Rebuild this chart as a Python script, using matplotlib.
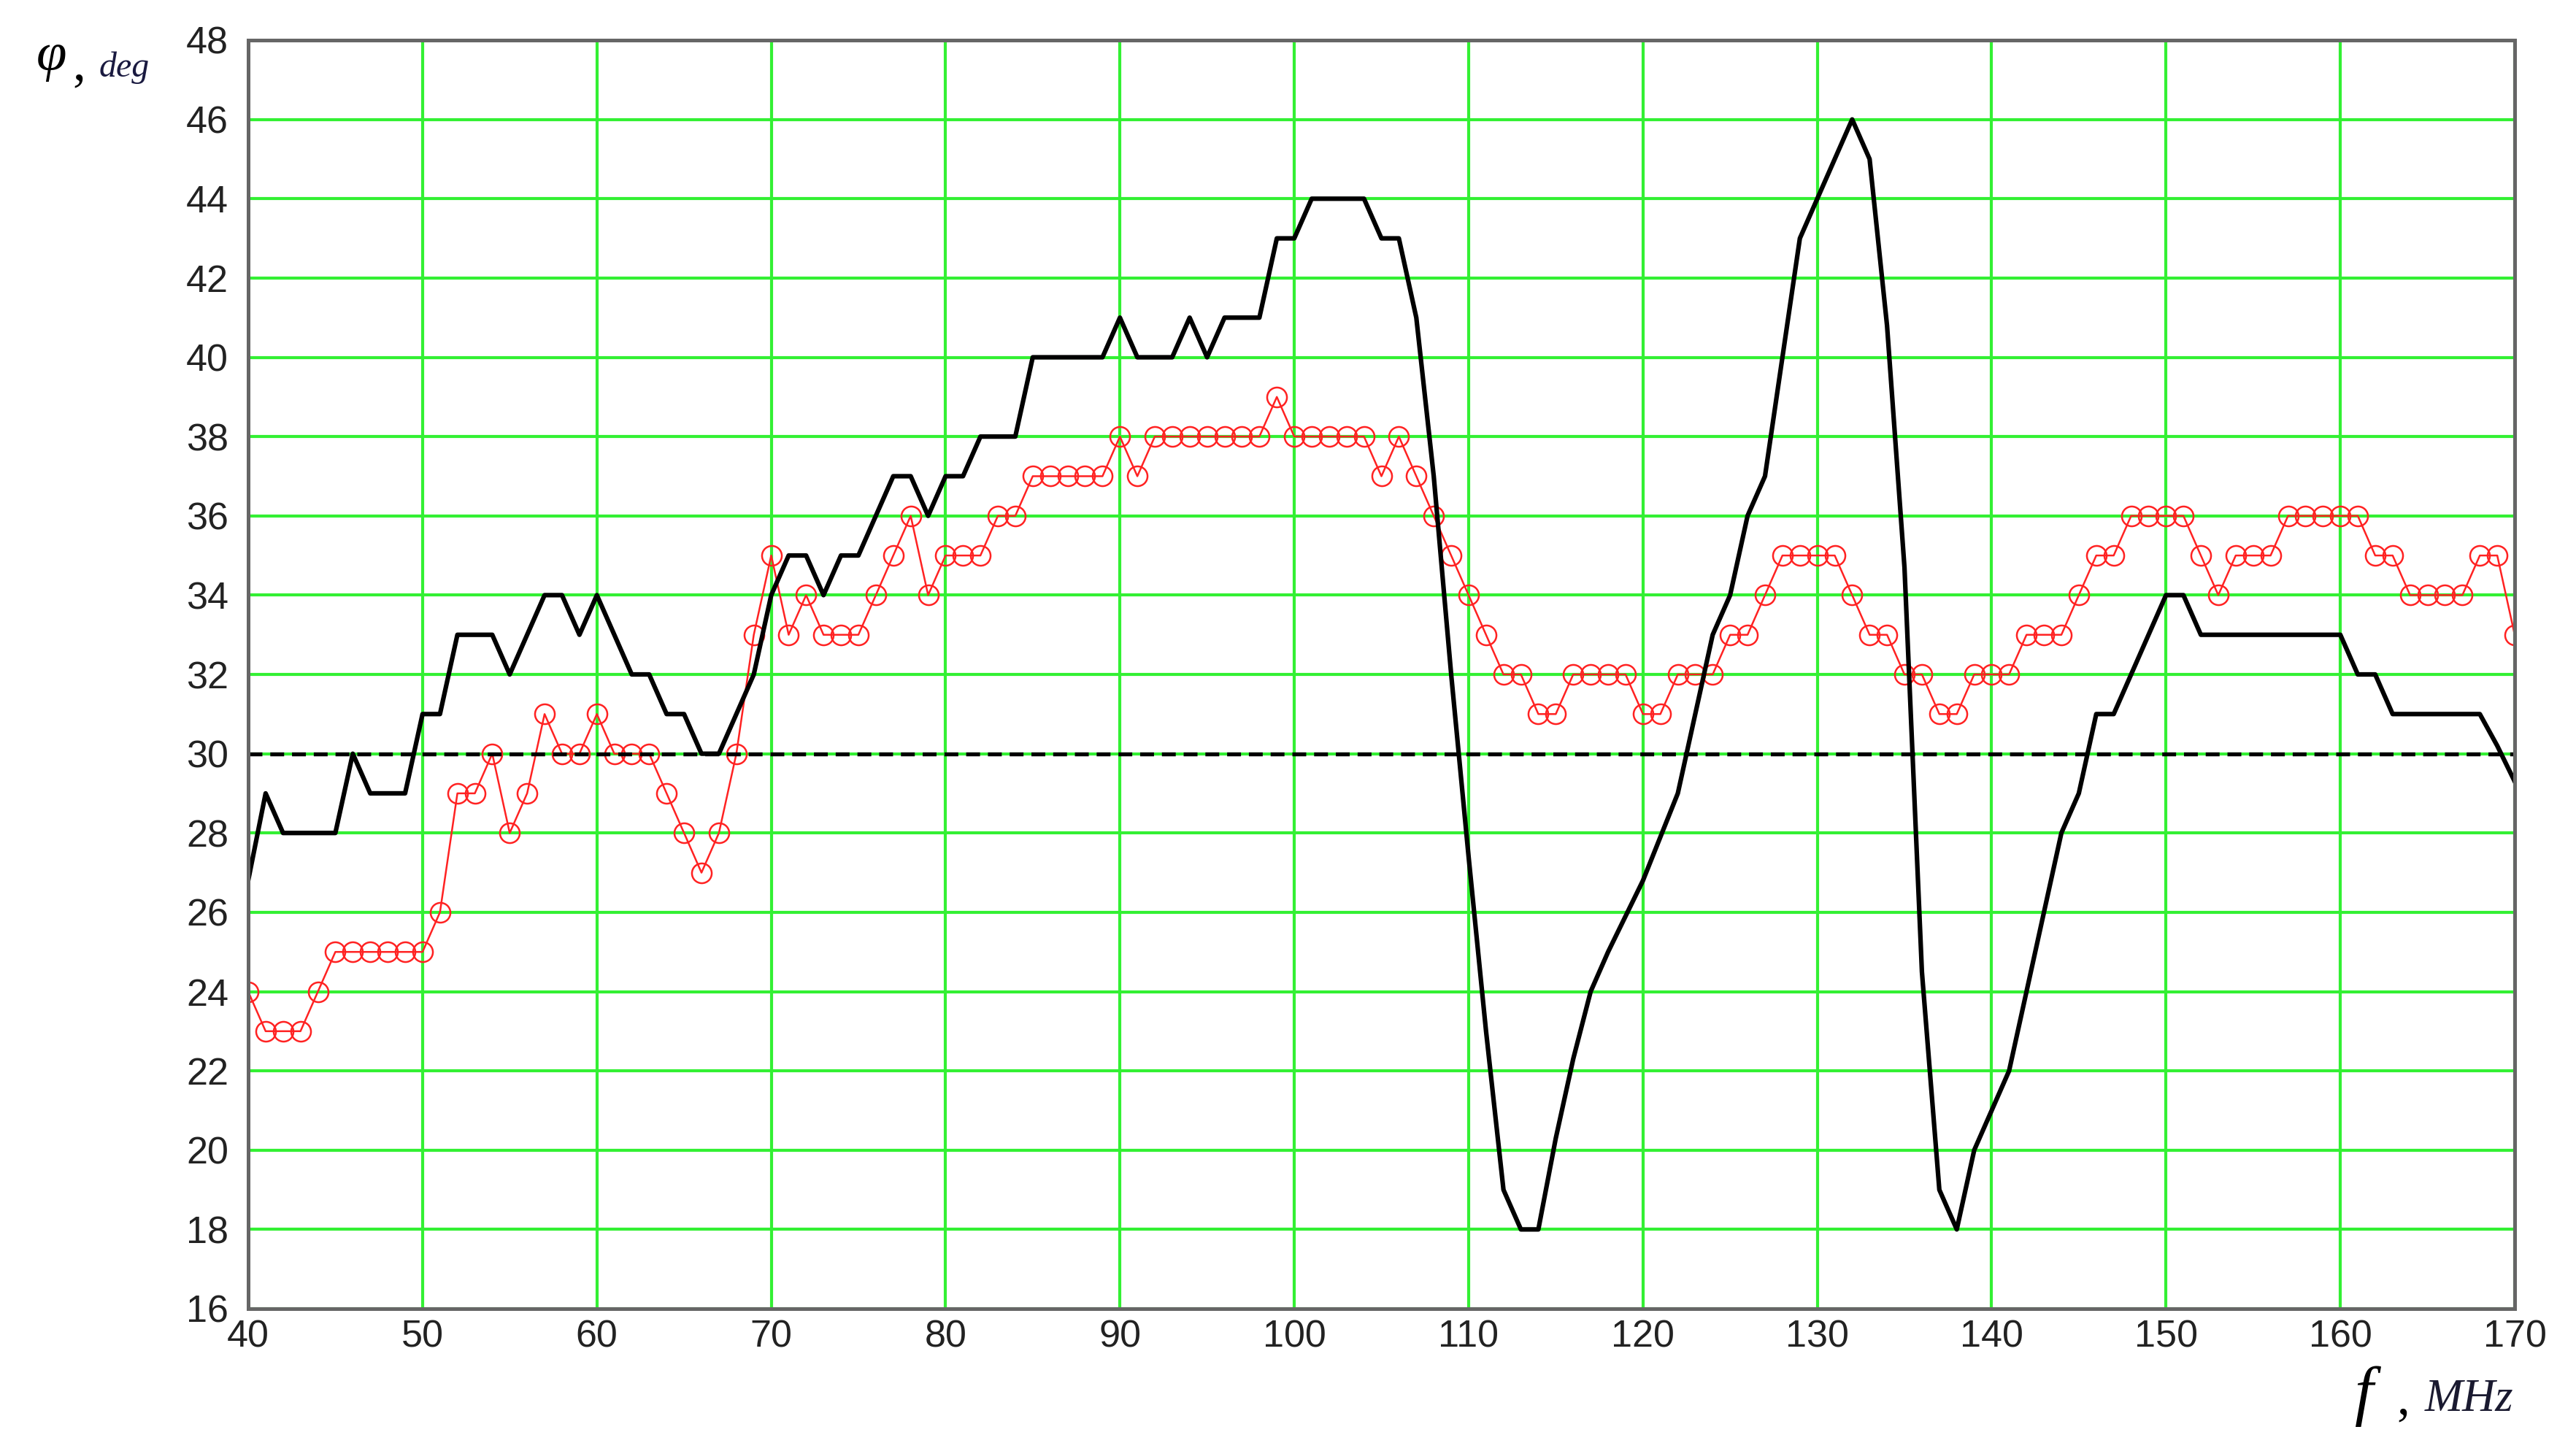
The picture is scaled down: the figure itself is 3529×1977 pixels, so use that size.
import matplotlib
matplotlib.use("Agg")
import matplotlib.pyplot as plt
from matplotlib import font_manager

# ---------------- data ----------------
freq = list(range(40, 171))  # MHz, 1 MHz step

phi_red = [
    24, 23, 23, 23, 24, 25, 25, 25, 25, 25,   # 40-49
    25, 26, 29, 29, 30, 28, 29, 31, 30, 30,   # 50-59
    31, 30, 30, 30, 29, 28, 27, 28, 30, 33,   # 60-69
    35, 33, 34, 33, 33, 33, 34, 35, 36, 34,   # 70-79
    35, 35, 35, 36, 36, 37, 37, 37, 37, 37,   # 80-89
    38, 37, 38, 38, 38, 38, 38, 38, 38, 39,   # 90-99
    38, 38, 38, 38, 38, 37, 38, 37, 36, 35,   # 100-109
    34, 33, 32, 32, 31, 31, 32, 32, 32, 32,   # 110-119
    31, 31, 32, 32, 32, 33, 33, 34, 35, 35,   # 120-129
    35, 35, 34, 33, 33, 32, 32, 31, 31, 32,   # 130-139
    32, 32, 33, 33, 33, 34, 35, 35, 36, 36,   # 140-149
    36, 36, 35, 34, 35, 35, 35, 36, 36, 36,   # 150-159
    36, 36, 35, 35, 34, 34, 34, 34, 35, 35,   # 160-169
    33,                                       # 170
]

phi_black = [
    26.8, 29, 28, 28, 28, 28, 30, 29, 29, 29,          # 40-49
    31, 31, 33, 33, 33, 32, 33, 34, 34, 33,            # 50-59
    34, 33, 32, 32, 31, 31, 30, 30, 31, 32,            # 60-69
    34, 35, 35, 34, 35, 35, 36, 37, 37, 36,            # 70-79
    37, 37, 38, 38, 38, 40, 40, 40, 40, 40,            # 80-89
    41, 40, 40, 40, 41, 40, 41, 41, 41, 43,            # 90-99
    43, 44, 44, 44, 44, 43, 43, 41, 37, 32,            # 100-109
    27.4, 23, 19, 18, 18, 20.3, 22.3, 24, 25, 25.9,    # 110-119
    26.8, 27.9, 29, 31, 33, 34, 36, 37, 40, 43,        # 120-129
    44, 45, 46, 45, 40.8, 34.7, 24.5, 19, 18, 20,      # 130-139
    21, 22, 24, 26, 28, 29, 31, 31, 32, 33,            # 140-149
    34, 34, 33, 33, 33, 33, 33, 33, 33, 33,            # 150-159
    33, 32, 32, 31, 31, 31, 31, 31, 31, 30.2,          # 160-169
    29.3,                                              # 170
]

threshold = 30
x_ticks = list(range(40, 171, 10))
y_ticks = list(range(16, 49, 2))

# ---------------- fonts ----------------
available = {f.name for f in font_manager.fontManager.ttflist}
tick_font = "Liberation Sans Narrow" if "Liberation Sans Narrow" in available else "Liberation Sans"
serif_font = "Liberation Serif" if "Liberation Serif" in available else "DejaVu Serif"

# ---------------- figure ----------------
W, H = 3529, 1977
DPI = 300
fig = plt.figure(figsize=(W / DPI, H / DPI), dpi=DPI)
fig.patch.set_facecolor("white")

left, right, top, bottom = 340, 3445, 55, 1793
ax = fig.add_axes([left / W, 1 - bottom / H, (right - left) / W, (bottom - top) / H])
ax.set_xlim(x_ticks[0], x_ticks[-1])
ax.set_ylim(y_ticks[0], y_ticks[-1])
ax.set_xticks(x_ticks)
ax.set_yticks(y_ticks)
ax.grid(True, color="#33f033", linewidth=1.0, zorder=0)
ax.set_axisbelow(True)
ax.tick_params(axis="both", length=0, labelsize=12.5, labelcolor="#222222")
ax.tick_params(axis="x", pad=3.5)
ax.tick_params(axis="y", pad=6.5)
for lab in ax.get_xticklabels() + ax.get_yticklabels():
    lab.set_family([tick_font, "DejaVu Sans"])
for sp in ax.spines.values():
    sp.set_color("#666666")
    sp.set_linewidth(1.2)
    sp.set_zorder(10)

ax.plot(freq, phi_red, color="#ff2222", lw=0.6, marker="o", ms=6.5,
        mfc="none", mec="#ff2222", mew=0.6, zorder=3)
ax.axhline(threshold, color="black", lw=1.3, dashes=(3.5, 2), zorder=4)
ax.plot(freq, phi_black, color="black", lw=1.5, zorder=5)

# ---------------- axis titles ----------------
def fx(px):
    return px / W

def fy(py):
    return 1 - py / H

serif = [serif_font, "DejaVu Serif"]
fig.text(fx(50), fy(96), "φ", fontsize=18, style="italic", family=serif,
         ha="left", va="baseline", color="black")
fig.text(fx(99), fy(108), ",", fontsize=17, family=serif,
         ha="left", va="baseline", color="black")
fig.text(fx(136), fy(105), "deg", fontsize=11.5, style="italic", family=serif,
         ha="left", va="baseline", color="#1a1a40")

fig.text(fx(3226), fy(1936), "f", fontsize=22, style="italic", family=serif,
         ha="left", va="baseline", color="black")
fig.text(fx(3283), fy(1936), ",", fontsize=17, family=serif,
         ha="left", va="baseline", color="black")
fig.text(fx(3322), fy(1933), "MHz", fontsize=15, style="italic", family=serif,
         ha="left", va="baseline", color="#1a1a30")

fig.savefig("out.png", dpi=DPI, facecolor="white")
